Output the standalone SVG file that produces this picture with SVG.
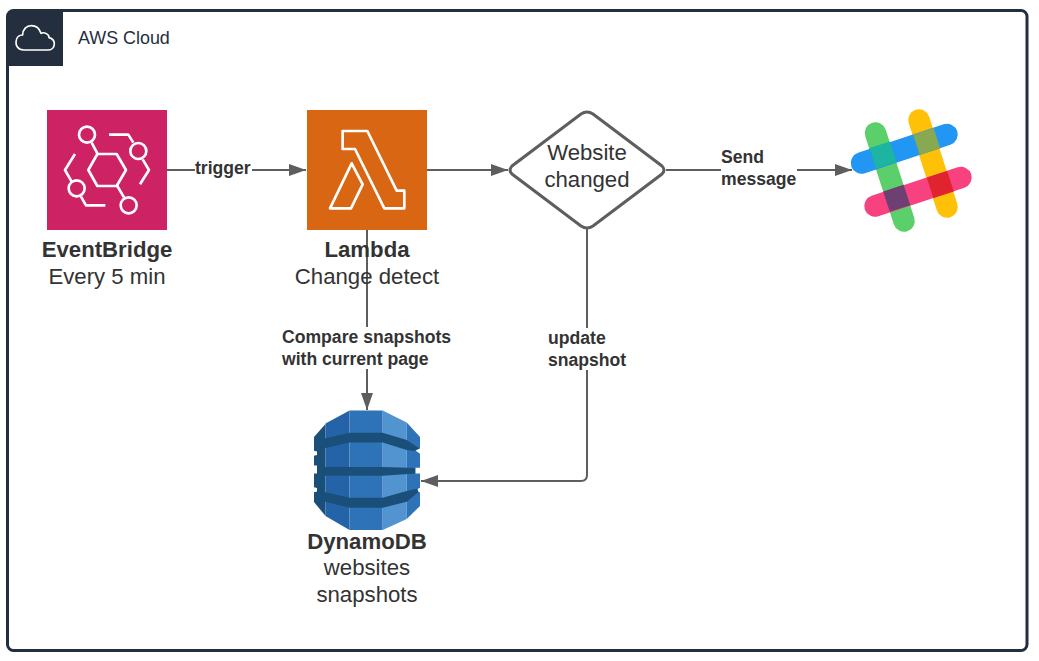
<svg xmlns="http://www.w3.org/2000/svg" width="1039" height="661" viewBox="0 0 1039 661">
<style>
text{font-family:"Liberation Sans",Arial,sans-serif;fill:#333;}
.t{font-size:22.2px;text-anchor:middle;}
.b{font-weight:bold;}
.l{font-size:17.6px;font-weight:bold;}
.c{fill:none;stroke:#5e5e5e;stroke-width:2;}
.i{fill:none;stroke:#fff;stroke-width:8;stroke-linejoin:round;}
.s{fill:none;stroke-width:21.5;stroke-linecap:round;}
.o{fill:#1a4f7a;}
</style>
<defs>
<marker id="a" markerUnits="userSpaceOnUse" markerWidth="18" markerHeight="14" refX="17" refY="7" orient="auto"><path d="M0 1L17 7L0 13Z" fill="#5e5e5e"/></marker>
</defs>
<rect width="1039" height="661" fill="#fff"/>
<g id="aws-cloud">
<rect x="7.500" y="10.500" width="1019.500" height="640" rx="6" fill="#fff" stroke="#232f3e" stroke-width="3"/>
<path d="M7 66V16a6 6 0 0 1 6-6H63V66Z" fill="#232f3e"/>
<g transform="scale(.3333)"><path class="i" style="stroke-width:5" d="M72 150C52 150 47 135 48 125C49 112 58 105 68 105C68 88 80 77 94 77C108 77 119 87 123 100C133 95 148 103 147 113C158 116 163 124 163 131C163 143 154 150 143 150Z"/></g>
<text x="78" y="44" style="font-size:17.900px;fill:#232f3e">AWS Cloud</text>
</g>
<g id="connectors">
<path class="c" d="M167 170H306" marker-end="url(#a)"/>
<path class="c" d="M427 170H508" marker-end="url(#a)"/>
<path class="c" d="M666 170H852" marker-end="url(#a)"/>
<path class="c" d="M367 230V410" marker-end="url(#a)"/>
<path class="c" d="M587 229V475Q587 481 581 481H421" marker-end="url(#a)"/>
</g>
<g id="eventbridge">
<rect x="47" y="110" width="120" height="120" fill="#cd2264"/>
<g transform="scale(.3333)" class="i">
<circle cx="261" cy="404" r="24"/><circle cx="415" cy="453" r="24"/><circle cx="230" cy="565" r="24"/><circle cx="386" cy="616" r="24"/>
<path d="M265 510L292 462H350L378 510L350 558H292Z"/>
<path d="M275 428L292 460M327 404H385L400 428M428 478L447 510L420 553M225 462L195 510L215 545M243 590L258 616H316M352 558L372 592"/>
</g>
<text class="t b" x="107" y="257">EventBridge</text>
<text class="t" x="107" y="284">Every 5 min</text>
</g>
<g id="lambda">
<rect x="307" y="110" width="120" height="120" fill="#d86613"/>
<g transform="translate(270 90) scale(.3333)" class="i">
<path d="M218 123H292L380 302H403V355H343L255 177H218Z"/>
<path d="M245 220L278 283L243 355H180Z"/>
</g>
<text class="t b" x="367" y="257">Lambda</text>
<text class="t" x="367" y="284">Change detect</text>
</g>
<g id="decision">
<path d="M587 112Q590 112 593 114L662 166Q666 170 662 174L593 226Q587 230 581 226L512 174Q508 170 512 166L581 114Q584 112 587 112Z" fill="#fff" stroke="#5e5e5e" stroke-width="3"/>
<text class="t" x="587" y="160">Website</text>
<text class="t" x="587" y="187">changed</text>
</g>
<g id="slack">
<path class="s" stroke="#5bcf69" d="M875.500 133L904 221"/>
<path class="s" stroke="#ffc107" d="M919 120L947 207"/>
<path class="s" stroke="#2196f3" d="M861.500 163L947 134.500"/>
<path class="s" stroke="#f8427f" d="M875 206L961 177.500"/>
<rect x="-10.750" y="-10.750" width="21.500" height="21.500" fill="#1db5a0" transform="translate(883 155) rotate(-18)"/>
<rect x="-10.750" y="-10.750" width="21.500" height="21.500" fill="#88a952" transform="translate(926.700 141.500) rotate(-18)"/>
<rect x="-10.750" y="-10.750" width="21.500" height="21.500" fill="#6d3f73" transform="translate(896.700 198.300) rotate(-18)"/>
<rect x="-10.750" y="-10.750" width="21.500" height="21.500" fill="#e0242f" transform="translate(940.300 184.500) rotate(-18)"/>
</g>
<g id="dynamodb">
<path d="M325.500 424L314 437V502L325.500 516Z" fill="#1a4f7a"/>
<path d="M325.500 423.500L349.500 410.500V530L325.500 516Z" fill="#2563a8"/>
<path d="M349.500 410.500H382.700V530H349.500Z" fill="#2e73b8"/>
<path d="M382.700 410.500L406.700 422.500V519L382.700 530Z" fill="#5294cf"/>
<path d="M406.700 422.500L420 437V506L406.700 519Z" fill="#2e73b8"/>
<path class="o" d="M325.500 438.300L349.500 432.700H382.700L406.700 440L419.500 448.500L415 451L406.700 450L382.700 442.500H349.500L325.500 448L314 451V441Z"/>
<path class="o" d="M314 467H382.700L415.500 468V473.500L382.700 475.700H314Z"/>
<path class="o" d="M314 489L325.500 492.300L349.500 497.700H382.700L406.700 491L417.500 488.500L418.500 492L406.700 501.700L382.700 507.700H349.500L325.500 501.700L314 498Z"/>
<path d="M313 450.500L317 451.500V455L313 456ZM313 465.500H317V473.500H313ZM313 487L317 488V491.500L313 492.500ZM421 448L415.500 450.500L421 454.500ZM415.500 467.700H421V473.500H415.500ZM421 487.300L417.500 489L418.500 492L421 492.500Z" fill="#fff"/>
<text class="t b" x="367" y="549">DynamoDB</text>
<text class="t" x="367" y="575">websites</text>
<text class="t" x="367" y="602">snapshots</text>
</g>
<g id="labels">
<rect x="195" y="159" width="57" height="20" fill="#fff"/>
<text class="l" x="195" y="174">trigger</text>
<rect x="721" y="148" width="76" height="40" fill="#fff"/>
<text class="l" x="721" y="163">Send</text>
<text class="l" x="721" y="185">message</text>
<rect x="282" y="327" width="171" height="42" fill="#fff"/>
<text class="l" x="282" y="343">Compare snapshots</text>
<text class="l" x="282" y="365">with current page</text>
<rect x="548" y="328" width="79" height="42" fill="#fff"/>
<text class="l" x="548" y="344">update</text>
<text class="l" x="548" y="366">snapshot</text>
</g>
</svg>
